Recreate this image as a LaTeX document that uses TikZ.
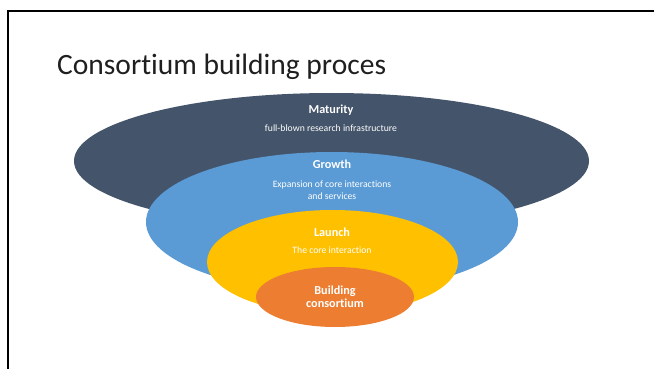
\documentclass[tikz,border=0pt]{standalone}
\usepackage{fontspec}
\setmainfont{Carlito}[Ligatures={NoCommon}]
\usetikzlibrary{shapes.geometric}
\definecolor{cdark}{HTML}{44546A}
\definecolor{cblue}{HTML}{5B9BD5}
\definecolor{cyell}{HTML}{FFC000}
\definecolor{corange}{HTML}{ED7D31}
\tikzset{
  layer/.style={ellipse, draw=none, inner sep=0pt, outer sep=0pt},
  head/.style={text=white, font=\fontsize{12.2}{13}\selectfont\bfseries, inner sep=0pt},
  body/.style={text=white, font=\fontsize{9.7}{11.5}\selectfont, inner sep=0pt, align=center},
  frame/.style={line width=2pt, black}
}
\begin{document}
\begin{tikzpicture}[x=1pt,y=-1pt]
\useasboundingbox (0,0) rectangle (654,369);
\fill[white] (0,0) rectangle (654,369);
\coordinate (ftl) at (8,11);
\coordinate (ftr) at (654,11);
\coordinate (fbl) at (8,369);
\draw[frame] (ftr) -- (ftl) -- (fbl);
\node[anchor=base west, inner sep=0pt, text=black!88, font=\fontsize{29.5}{32}\selectfont] (title) at (57,75) {Consortium building proces};
\node[layer, fill=cdark, minimum width=515pt, minimum height=136pt] (mat) at (331.5,161) {};
\node[layer, fill=cblue, minimum width=372pt, minimum height=140pt] (gro) at (332,222) {};
\node[layer, fill=cyell, minimum width=251pt, minimum height=104pt] (lau) at (332.5,262) {};
\node[layer, fill=corange, minimum width=158pt, minimum height=60pt] (bui) at (335,297) {};
\node[head] (matH) at (331,110) {Maturity};
\node[body] (matB) at (331,128) {full-blown research infrastructure};
\node[head] (groH) at (332,164) {Growth};
\node[body] (groB) at (332,190) {Expansion of core interactions\\and services};
\node[head] (lauH) at (332,232) {Launch};
\node[body] (lauB) at (332,250) {The core interaction};
\node[head, align=center, font=\fontsize{12.2}{12.5}\selectfont\bfseries] (buiH) at (335,297) {Building\\consortium};
\end{tikzpicture}
\end{document}
